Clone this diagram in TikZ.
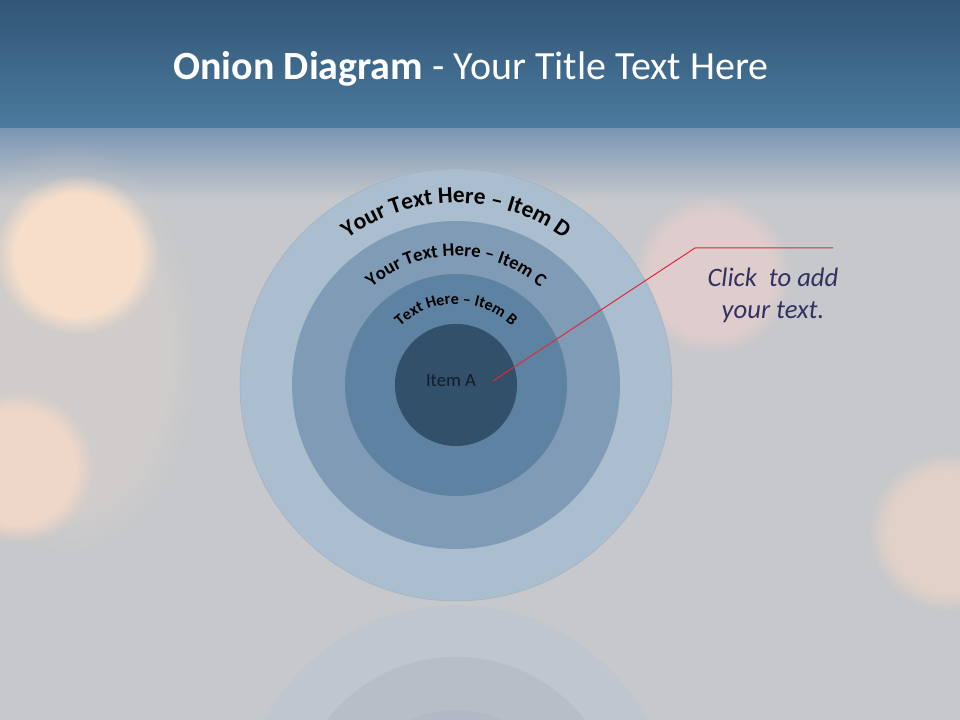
\documentclass[tikz,border=0pt]{standalone}
\usepackage{fontspec}
\setmainfont{Carlito}
\usetikzlibrary{decorations.text,fadings}
\definecolor{bandTop}{RGB}{50,86,118}
\definecolor{bandBot}{RGB}{74,122,158}
\definecolor{bgGray}{RGB}{198,200,204}
\definecolor{fadeTop}{RGB}{122,150,180}
\definecolor{ringD}{RGB}{170,190,208}
\definecolor{ringC}{RGB}{128,155,181}
\definecolor{ringB}{RGB}{94,130,161}
\definecolor{ringA}{RGB}{50,80,106}
\definecolor{reflD}{RGB}{191,198,208}
\definecolor{reflC}{RGB}{183,190,200}
\definecolor{reflB}{RGB}{178,185,196}
\definecolor{peach}{RGB}{246,222,202}
\definecolor{peachB}{RGB}{238,214,200}
\definecolor{pinkish}{RGB}{230,206,204}
\definecolor{peachC}{RGB}{228,210,200}
\definecolor{callout}{RGB}{50,50,98}
\definecolor{leader}{RGB}{226,40,58}
\pgfdeclareradialshading{bokehshade}{\pgfpointorigin}{color(0bp)=(pgftransparent!0); color(19bp)=(pgftransparent!0); color(25bp)=(pgftransparent!100); color(50bp)=(pgftransparent!100)}
\pgfdeclarefading{bokeh}{\pgfuseshading{bokehshade}}
\newcommand\dfont{\bfseries\fontsize{17.5}{20}\selectfont}
\newcommand\cfont{\bfseries\fontsize{14}{17}\selectfont}
\newcommand\bfont{\bfseries\fontsize{12}{14}\selectfont}
\tikzset{
  spot/.style={path fading=bokeh},
  ringtext/.style={decorate, decoration={text along path, text align=center, text={#1}}},
  leaderline/.style={draw=leader, line width=0.75pt},
}
\begin{document}
\begin{tikzpicture}[x=0.75pt,y=0.75pt]
\useasboundingbox (0,0) rectangle (960,720);
\begin{scope}
\clip (0,0) rectangle (960,720);
% background
\fill[bgGray] (0,0) rectangle (960,720);
\shade[top color=fadeTop, bottom color=bgGray] (0,520) rectangle (960,592);
% bokeh spots
\fill[peach, opacity=0.2, spot] (70,370) ellipse (130 and 210);
\fill[peach, spot] (77,465) ellipse (82 and 80);
\fill[peachB, spot] (18,253) ellipse (76 and 76);
\fill[pinkish, opacity=0.8, spot] (712,445) ellipse (80 and 80);
\fill[peachC, opacity=0.9, spot] (948,188) ellipse (80 and 80);
% title band
\shade[top color=bandTop, bottom color=bandBot] (0,592) rectangle (960,720);
% reflection
\coordinate (rc) at (456,-101);
\fill[reflD] (rc) circle (216);
\fill[reflC] (rc) circle (164);
\fill[reflB] (rc) circle (111);
\end{scope}
% rings
\coordinate (oc) at (456,335);
\fill[ringD] (oc) circle (216);
\draw[ringD!80!gray, line width=0.4pt] (oc) circle (216);
\fill[ringC] (oc) circle (164);
\fill[ringB] (oc) circle (111);
\fill[ringA] (oc) circle (61);
% curved labels
\path[ringtext={|\dfont|Your Text Here – Item D}] (oc) ++(165:182) arc[start angle=165, end angle=15, radius=182];
\path[ringtext={|\cfont|Your Text Here – Item C}] (oc) ++(170:129) arc[start angle=170, end angle=10, radius=129];
\path[ringtext={|\bfont|Text Here – Item B}] (oc) ++(175:81) arc[start angle=175, end angle=5, radius=81];
\node[font=\fontsize{14}{16}\selectfont, text={rgb,255:red,18;green,28;blue,40}] (itemA) at (451,339) {Item A};
% title
\node[anchor=base, text=white, font=\fontsize{30}{36}\selectfont] (title) at (471,640) {\textbf{Onion Diagram} - Your Title Text Here};
% callout
\node[align=center, text=callout, font=\itshape\fontsize{20}{24}\selectfont] (callout) at (773,425) {Click\ \ to add\\your text.};
\coordinate (lead0) at (493,339);
\coordinate (elbow) at (695,472);
\coordinate (leadend) at (833,472);
\draw[leaderline] (lead0) -- (elbow) -- (leadend);
\end{tikzpicture}
\end{document}
